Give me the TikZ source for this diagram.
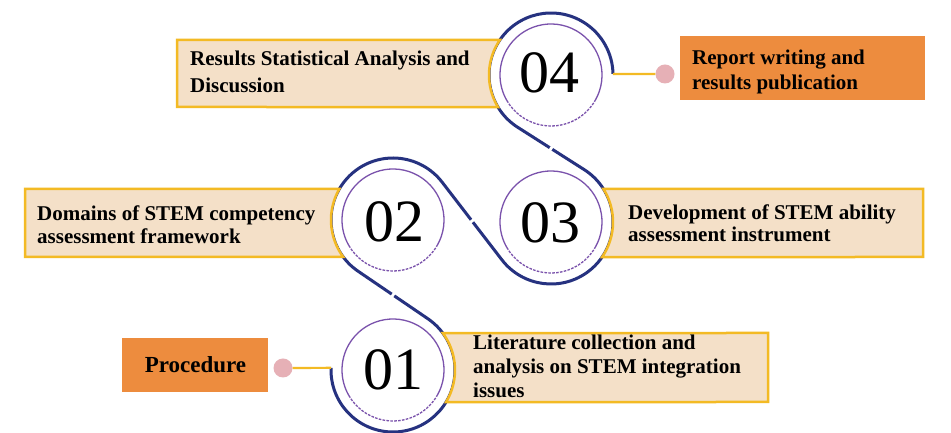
\documentclass[tikz,border=0pt]{standalone}
\usepackage{fontspec}
\setmainfont{Liberation Serif}
\definecolor{ringblue}{RGB}{38,50,128}
\definecolor{innerpurple}{RGB}{122,82,172}
\definecolor{gold}{RGB}{243,186,36}
\definecolor{peach}{RGB}{244,224,200}
\definecolor{orangefill}{RGB}{237,140,62}
\definecolor{pinkdot}{RGB}{230,176,182}
\tikzset{
  ring/.style={draw=ringblue, line width=3pt},
  innerc/.style={draw=innerpurple, line width=1.3pt},
  goldbox/.style={draw=gold, fill=peach, line width=2.5pt, line join=miter},
  obox/.style={fill=orangefill, draw=none, inner sep=0pt},
  yline/.style={draw=gold, line width=2.2pt},
  dotn/.style={circle, fill=pinkdot, minimum size=19pt, inner sep=0pt},
  txt/.style={font=\fontsize{21}{24}\selectfont\bfseries, align=left, inner sep=0pt, text=black},
  num/.style={font=\fontsize{60}{60}\selectfont, inner sep=0pt, text=black},
  gap/.style={draw=white, line width=6pt}
}
\begin{document}
\begin{tikzpicture}[x=1pt,y=1pt]
\useasboundingbox (0,0) rectangle (951,433);
\fill[white] (0,0) rectangle (951,433);

\coordinate (c1) at (393,63);
\coordinate (c2) at (393,213);
\coordinate (c3) at (551,211);
\coordinate (c4) at (551,358);

% serpentine ring
\draw[ring] ([shift={(178:62)}]c1) coordinate (e1)
  arc[start angle=178,end angle=415.76,radius=62]
  -- ([shift={(235.76:62)}]c2) arc[start angle=235.76,end angle=37.57,radius=62]
  -- ([shift={(217.57:62)}]c3) arc[start angle=217.57,end angle=417.53,radius=62]
  -- ([shift={(237.53:62)}]c4) arc[start angle=237.53,end angle=1,radius=62]
  coordinate (e4);

% small gaps at the crossings
\coordinate (m12) at (393,138);
\coordinate (m23) at (472,212);
\coordinate (m34) at (551,284.5);
\draw[gap] ([shift={(145.76:1.4)}]m12) -- ([shift={(-34.24:1.4)}]m12);
\draw[gap] ([shift={(127.6:1.4)}]m23) -- ([shift={(-52.4:1.4)}]m23);
\draw[gap] ([shift={(147.5:1.4)}]m34) -- ([shift={(-32.5:1.4)}]m34);

% inner circles
\foreach \c in {c1,c2,c3,c4}{
  \draw[innerc] ([shift={(-30:51)}]\c) arc[start angle=-30,end angle=210,radius=51];
  \draw[innerc, dash pattern=on 2.6pt off 1.3pt] ([shift={(210:51)}]\c) arc[start angle=210,end angle=330,radius=51];
}

% text boxes attached to the rings
\path[goldbox] (177,393) -- ([shift={(145.6:62)}]c4) arc[start angle=145.6,end angle=211.1,radius=62] -- (177,326) -- cycle;
\path[goldbox] (25,244) -- ([shift={(150:62)}]c2) arc[start angle=150,end angle=216.6,radius=62] -- (25,176) -- cycle;
\path[goldbox] (923,244) -- ([shift={(32.2:62)}]c3) arc[start angle=32.2,end angle=-34.4,radius=62] -- (923,176) -- cycle;
\path[goldbox] (768,100) -- ([shift={(36.6:62)}]c1) arc[start angle=36.6,end angle=-31.1,radius=62] -- (768,31) -- cycle;

% orange boxes
\node[obox, minimum width=245pt, minimum height=64pt] (rep) at (802.5,365) {};
\node[obox, minimum width=146pt, minimum height=54pt] (proc) at (195,68) {};

% dots and short connectors
\node[dotn] (d4) at (665,359) {};
\node[dotn] (d1) at (283,65) {};
\draw[yline] (e4) -- (d4);
\draw[yline] (d1) -- (e1);

% numbers
\node[num] (n4) at (549,360) {04};
\node[num] (n2) at (394,211) {02};
\node[num] (n3) at (550,210) {03};
\node[num] (n1) at (393,63) {01};

% texts (base anchor = baseline of the last line)
\node[txt, anchor=base west, font=\fontsize{21}{27}\selectfont\bfseries] (t4) at (190,340) {Results Statistical Analysis and\\Discussion};
\node[txt, anchor=base west, font=\fontsize{21}{25}\selectfont\bfseries] (tr) at (692,343) {Report writing and\\results publication};
\node[txt, anchor=base west, font=\fontsize{21}{23}\selectfont\bfseries] (t2) at (37,189) {Domains of STEM competency\\assessment framework};
\node[txt, anchor=base west, font=\fontsize{21}{22.5}\selectfont\bfseries] (t3) at (628,191) {Development of STEM ability\\assessment instrument};
\node[txt, anchor=base west] (t1) at (473,35) {Literature collection and\\analysis on STEM integration\\issues};
\node[txt, anchor=base, font=\fontsize{23}{27}\selectfont\bfseries] (tp) at (195.5,60) {Procedure};
\end{tikzpicture}
\end{document}
